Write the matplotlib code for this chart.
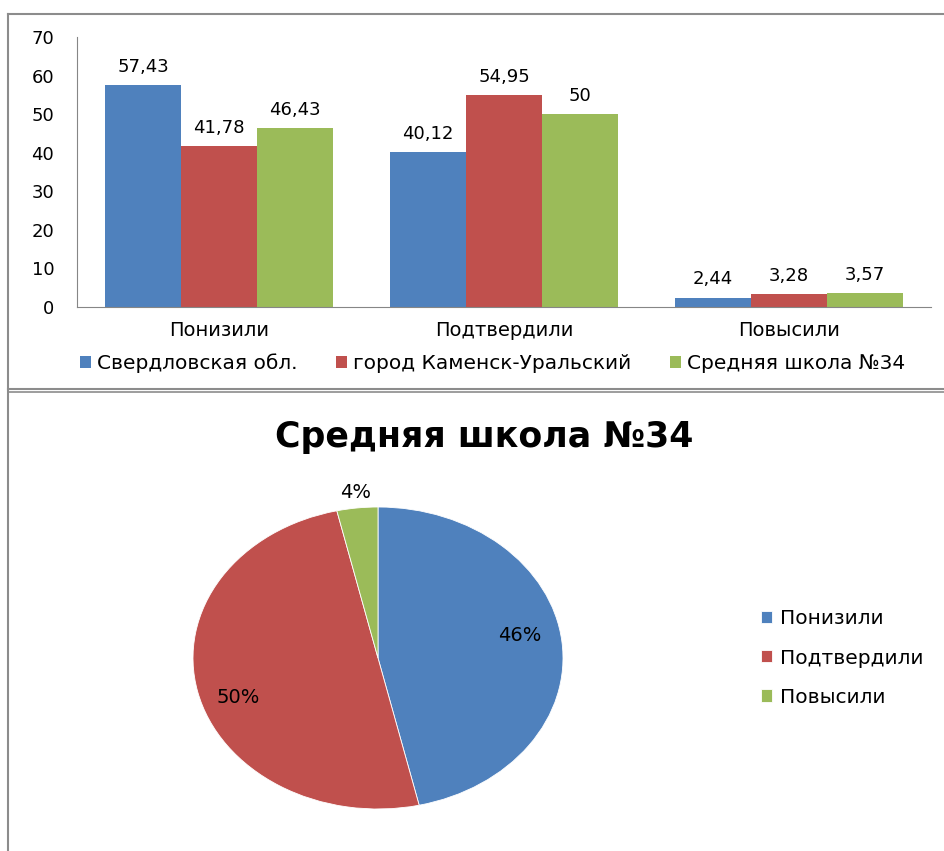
import numpy as np
import matplotlib
matplotlib.use("Agg")
import matplotlib.pyplot as plt
from matplotlib.lines import Line2D

plt.rcParams['font.family'] = ['DejaVu Sans']

# Data
categories = ['Понизили', 'Подтвердили', 'Повысили']
series_names = ['Свердловская обл.', 'город Каменск-Уральский', 'Средняя школа №34']
sverdl = [57.43, 40.12, 2.44]
kamensk = [41.78, 54.95, 3.28]
school = [46.43, 50, 3.57]
y_ticks = [0, 10, 20, 30, 40, 50, 60, 70]

pie_title = 'Средняя школа №34'
pie_values = school
pie_labels = categories

colours = ['#4F81BD', '#C0504D', '#9BBB59']
text_col = '#000000'

W, H = 945, 851
fig = plt.figure(figsize=(W / 100, H / 100), dpi=100)


def fx(px):
    return px / W


def fy(py):
    return 1 - py / H


# ---- frames (document borders) ----
frame_col = '#8c8c8c'
fig.add_artist(Line2D([fx(8), 1], [fy(14), fy(14)], color=frame_col, lw=1.5))
fig.add_artist(Line2D([fx(8), fx(8)], [fy(14), 0], color=frame_col, lw=1.5))
fig.add_artist(Line2D([fx(8), 1], [fy(389), fy(389)], color=frame_col, lw=1.5))
fig.add_artist(Line2D([fx(8), 1], [fy(391.5), fy(391.5)], color=frame_col, lw=1.2))

# ---- bar chart ----
ax = fig.add_axes([fx(76.5), fy(307), fx(931.5) - fx(76.5), fy(37) - fy(307)])
x = np.arange(len(categories))
bw = 0.8 / 3
all_series = [sverdl, kamensk, school]
for i, (vals, name) in enumerate(zip(all_series, series_names)):
    bars = ax.bar(x + (i - 1) * bw, vals, bw, color=colours[i], label=name)
    for b, v in zip(bars, vals):
        ax.text(b.get_x() + b.get_width() / 2, v + 2.4, f"{v:g}".replace('.', ','),
                ha='center', va='bottom', fontsize=13, color=text_col)

ax.set_xlim(-0.5, len(categories) - 0.5)
ax.set_ylim(0, 70)
ax.set_yticks(y_ticks)
ax.set_yticklabels([str(t) for t in y_ticks], fontsize=13)
ax.set_xticks(x)
ax.set_xticklabels(categories, fontsize=14)
ax.tick_params(axis='x', length=0, pad=10)
ax.tick_params(axis='y', length=0, pad=16)
for s in ['top', 'right']:
    ax.spines[s].set_visible(False)
ax.spines['left'].set_color('#868686')
ax.spines['bottom'].set_color('#868686')

ax.legend(loc='center', bbox_to_anchor=(0.4865, -0.207), ncol=3, frameon=False,
          fontsize=14.5, handlelength=0.55, handleheight=0.55, handletextpad=0.3,
          columnspacing=1.9, borderaxespad=0)

# ---- pie chart ----
fig.text(fx(484), fy(437), pie_title, ha='center', va='center', fontsize=25,
         fontweight='bold', color=text_col)

pax = fig.add_axes([fx(193), fy(809), fx(563) - fx(193), fy(507) - fy(809)])
wedges, texts, autotexts = pax.pie(pie_values, colors=colours, startangle=90,
                                   counterclock=False, radius=1,
                                   autopct=lambda p: f"{p:.0f}%",
                                   textprops=dict(fontsize=14, color=text_col),
                                   wedgeprops=dict(linewidth=0.6, edgecolor='white'))
pax.set_aspect('auto')
pax.set_xlim(-1, 1)
pax.set_ylim(-1, 1)

# label placement (Excel best fit): distance from centre and angle shift
label_r = [0.78, 0.80, 1.10]
label_shift = [4.5, 6.0, 0.0]
for w, t, r, d in zip(wedges, autotexts, label_r, label_shift):
    ang = np.deg2rad((w.theta1 + w.theta2) / 2 + d)
    t.set_position((r * np.cos(ang), r * np.sin(ang)))

pax.legend(wedges, pie_labels, loc='center left', bbox_to_anchor=(1.485, 0.5),
           frameon=False, fontsize=14.5, handlelength=0.55, handleheight=0.55,
           handletextpad=0.4, labelspacing=1.0)

fig.savefig('out.png', dpi=100, facecolor='white')
